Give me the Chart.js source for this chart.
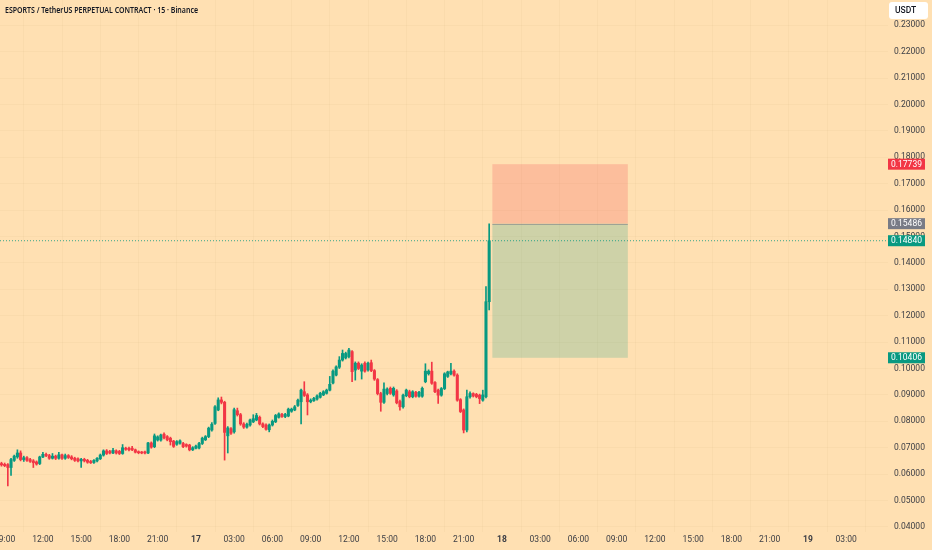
<!DOCTYPE html>
<html>
<head>
<meta charset="utf-8">
<script src="https://cdn.jsdelivr.net/npm/chart.js@4.4.1/dist/chart.umd.min.js"></script>
<style>
  html, body { margin: 0; padding: 0; background: #FFE0B2; }
  canvas { display: block; }
</style>
</head>
<body>
<canvas id="chart" width="932" height="550" style="width:932px;height:550px"></canvas>
<script>
// 15 min candles, hours counted from the 16th 00:00
const firstBarHour = 8.75;
const barHours = 0.25;

const opens = [
  .0640,.0637,.0636,.0625,.0652,.0665,.0680,.0655,.0662,.0655,.0650,.0646,.0640,.0665,.0675,.0670,.0660,.0668,.0660,.0673,
  .0660,.0670,.0665,.0660,.0658,.0650,.0656,.0652,.0648,.0644,.0650,.0658,.0672,.0688,.0686,.0680,.0688,.0686,.0678,.0698,
  .0698,.0698,.0692,.0685,.0683,.0684,.0680,.0718,.0704,.0729,.0729,.0751,.0742,.0736,.0725,.0713,.0717,.0716,.0712,.0710,
  .0692,.0698,.0699,.0716,.0730,.0742,.0767,.0792,.0843,.0881,.0872,.0745,.0772,.0760,.0840,.0825,.0790,.0778,.0786,.0798,
  .0805,.0815,.0790,.0786,.0768,.0786,.0798,.0815,.0826,.0818,.0820,.0838,.0843,.0860,.0874,.0912,.0900,.0874,.0878,.0884,
  .0891,.0900,.0906,.0918,.0945,.0975,.1005,.1032,.1040,.1045,.1064,.0994,.1020,.0990,.1020,.0995,.1022,.0992,.0958,.0905,
  .0872,.0905,.0925,.0900,.0915,.0875,.0855,.0897,.0912,.0893,.0910,.0895,.0895,.0950,.0980,.0990,.0947,.0918,.0899,.0924,
  .0970,.0980,.0990,.0975,.0882,.0843,.0767,.0893,.0905,.0902,.0899,.0880,.0893,.1253
];
const highs = [
  .0645,.0642,.0640,.0660,.0672,.0692,.0688,.0668,.0666,.0660,.0655,.0650,.0668,.0682,.0680,.0675,.0678,.0672,.0682,.0676,
  .0676,.0674,.0670,.0664,.0662,.0660,.0660,.0656,.0652,.0655,.0663,.0676,.0692,.0693,.0690,.0698,.0692,.0690,.0712,.0702,
  .0702,.0705,.0695,.0688,.0686,.0687,.0720,.0722,.0752,.0745,.0752,.0756,.0746,.0740,.0728,.0727,.0730,.0720,.0715,.0713,
  .0704,.0710,.0720,.0740,.0746,.0778,.0795,.0860,.0889,.0892,.0876,.0780,.0776,.0850,.0850,.0830,.0795,.0793,.0808,.0825,
  .0830,.0820,.0794,.0790,.0790,.0805,.0826,.0832,.0830,.0830,.0850,.0850,.0860,.0884,.0922,.0950,.0905,.0885,.0891,.0900,
  .0910,.0916,.0922,.0970,.0995,.1010,.1045,.1070,.1062,.1076,.1068,.1025,.1025,.1018,.1025,.1024,.1032,.0996,.0962,.0910,
  .0946,.0927,.0930,.0930,.0920,.0880,.0903,.0922,.0918,.0916,.0914,.0914,.0930,.1018,.0995,.1024,.0950,.0922,.0928,.0984,
  .0990,.1020,.0995,.0980,.0886,.0847,.0918,.0912,.0908,.0906,.0903,.0918,.1310,.1548
];
const lows = [
  .0630,.0628,.0555,.0595,.0648,.0660,.0650,.0648,.0648,.0644,.0625,.0634,.0636,.0662,.0666,.0656,.0657,.0655,.0657,.0656,
  .0656,.0659,.0654,.0648,.0646,.0625,.0646,.0641,.0640,.0640,.0646,.0655,.0668,.0674,.0676,.0677,.0676,.0674,.0675,.0690,
  .0688,.0689,.0680,.0677,.0677,.0676,.0677,.0698,.0700,.0725,.0725,.0733,.0726,.0710,.0701,.0709,.0713,.0700,.0702,.0688,
  .0689,.0695,.0695,.0712,.0727,.0738,.0763,.0788,.0840,.0866,.0653,.0680,.0750,.0755,.0820,.0785,.0773,.0774,.0782,.0795,
  .0802,.0786,.0776,.0766,.0760,.0782,.0795,.0812,.0815,.0814,.0817,.0834,.0840,.0856,.0790,.0894,.0824,.0870,.0875,.0880,
  .0888,.0897,.0903,.0915,.0942,.0972,.1000,.1028,.1036,.1040,.0950,.0956,.0996,.0960,.0986,.0990,.0988,.0955,.0900,.0838,
  .0868,.0900,.0902,.0895,.0866,.0842,.0850,.0893,.0889,.0889,.0891,.0891,.0891,.0946,.0975,.0940,.0908,.0868,.0895,.0920,
  .0966,.0976,.0971,.0876,.0833,.0756,.0760,.0888,.0892,.0889,.0867,.0876,.0889,.1222
];
const closes = [
  .0635,.0632,.0625,.0655,.0668,.0680,.0655,.0662,.0652,.0648,.0643,.0638,.0665,.0675,.0670,.0660,.0668,.0660,.0673,.0660,
  .0670,.0663,.0658,.0652,.0650,.0656,.0650,.0645,.0643,.0652,.0660,.0672,.0688,.0678,.0680,.0690,.0680,.0678,.0700,.0694,
  .0692,.0692,.0683,.0681,.0680,.0680,.0718,.0702,.0745,.0741,.0748,.0737,.0730,.0723,.0705,.0723,.0726,.0704,.0706,.0692,
  .0700,.0706,.0716,.0736,.0742,.0774,.0789,.0855,.0881,.0872,.0758,.0775,.0755,.0844,.0825,.0790,.0778,.0788,.0805,.0810,
  .0822,.0790,.0780,.0770,.0786,.0800,.0822,.0828,.0818,.0826,.0846,.0846,.0855,.0880,.0918,.0898,.0874,.0880,.0887,.0896,
  .0906,.0912,.0918,.0940,.0990,.1006,.1032,.1057,.1057,.1070,.0988,.1020,.1000,.1013,.0990,.1020,.0992,.0960,.0905,.0872,
  .0922,.0922,.0906,.0925,.0870,.0855,.0899,.0918,.0893,.0912,.0895,.0910,.0925,.0990,.0990,.0944,.0912,.0899,.0924,.0980,
  .0987,.0990,.0975,.0880,.0837,.0767,.0893,.0905,.0896,.0893,.0886,.0900,.1253,.1484
];

// axis ticks
const priceTicks = [0.04,0.05,0.06,0.07,0.08,0.09,0.10,0.11,0.12,0.13,0.14,0.15,0.16,0.17,0.18,0.19,0.20,0.21,0.22,0.23];
const timeTickHours = [9,12,15,18,21,24,27,30,33,36,39,42,45,48,51,54,57,60,63,66,69,72,75];
const timeTickLabels = ['09:00','12:00','15:00','18:00','21:00','17','03:00','06:00','09:00','12:00','15:00','18:00','21:00',
  '18','03:00','06:00','09:00','12:00','15:00','18:00','21:00','19','03:00'];

// position tool (short) and price marks
const lastPrice = 0.14840;
const entryPrice = 0.15486;
const stopPrice = 0.17739;
const targetPrice = 0.10406;
const zoneStartHour = 47.25;
const zoneEndHour = 57.875;

const title = 'ESPORTS / TetherUS PERPETUAL CONTRACT · 15 · Binance';

const upColor = '#089981';
const downColor = '#F23645';
const textColor = '#3b3d44';
const gridColor = 'rgba(120,90,40,0.035)';
const fontFamily = 'Roboto, "Noto Sans", sans-serif';

const xMin = 8.635, xMax = 78.28;
const yMin = 0.03807, yMax = 0.23958;

const times = opens.map((o, i) => firstBarHour + i * barHours);
const barColors = opens.map((o, i) => closes[i] >= o ? upColor : downColor);

const overlay = {
  id: 'overlay',
  beforeDatasetsDraw(chart) {
    const {ctx, scales: {x, y}} = chart;
    const x0 = x.getPixelForValue(zoneStartHour);
    const x1 = x.getPixelForValue(zoneEndHour);
    const yStop = y.getPixelForValue(stopPrice);
    const yEntry = y.getPixelForValue(entryPrice);
    const yTarget = y.getPixelForValue(targetPrice);
    ctx.save();
    ctx.fillStyle = 'rgba(242,54,69,0.2)';
    ctx.fillRect(x0, yStop, x1 - x0, yEntry - yStop);
    ctx.fillStyle = 'rgba(8,153,129,0.2)';
    ctx.fillRect(x0, yEntry, x1 - x0, yTarget - yEntry);
    ctx.strokeStyle = 'rgba(120,123,134,0.55)';
    ctx.lineWidth = 1;
    ctx.beginPath();
    ctx.moveTo(x0, Math.round(yEntry) + 0.5);
    ctx.lineTo(x1, Math.round(yEntry) + 0.5);
    ctx.stroke();
    ctx.restore();
  },
  afterDraw(chart) {
    const {ctx, scales: {y}} = chart;
    const left = chart.chartArea.right;
    ctx.save();
    // price labels on the axis
    const marks = [[stopPrice, downColor], [entryPrice, '#787B86'], [lastPrice, upColor], [targetPrice, upColor]];
    ctx.font = '8.5px ' + fontFamily;
    ctx.textAlign = 'center';
    ctx.textBaseline = 'middle';
    marks.forEach(([v, c]) => {
      const py = y.getPixelForValue(v);
      ctx.fillStyle = c;
      ctx.fillRect(left, py - 5.5, 37, 11);
      ctx.fillStyle = '#ffffff';
      ctx.fillText(v.toFixed(5), left + 18.5, py + 0.5);
    });
    // currency box
    ctx.fillStyle = '#ffffff';
    ctx.beginPath();
    ctx.roundRect(889, 2, 39, 17, 3);
    ctx.fill();
    ctx.fillStyle = '#131722';
    ctx.textAlign = 'left';
    ctx.font = '500 8.5px ' + fontFamily;
    ctx.fillText('USDT', 895, 11);
    // symbol title
    ctx.font = '600 9.5px "Noto Sans", sans-serif';
    const w = ctx.measureText(title).width;
    ctx.translate(5, 10.5);
    ctx.scale(193 / w, 1);
    ctx.fillStyle = '#131722';
    ctx.fillText(title, 0, 0);
    ctx.restore();
  }
};

new Chart(document.getElementById('chart'), {
  type: 'bar',
  data: {
    datasets: [
      {
        type: 'line',
        data: [{x: xMin, y: lastPrice}, {x: xMax, y: lastPrice}],
        borderColor: 'rgba(8,153,129,0.8)',
        borderWidth: 1,
        borderDash: [1, 2],
        pointRadius: 0,
        order: 0
      },
      {
        data: times.map((t, i) => ({x: t, y: [opens[i], closes[i]]})),
        backgroundColor: barColors,
        barThickness: 2.4,
        minBarLength: 1,
        grouped: false,
        order: 1
      },
      {
        data: times.map((t, i) => ({x: t, y: [lows[i], highs[i]]})),
        backgroundColor: barColors,
        barThickness: 1,
        grouped: false,
        order: 2
      }
    ]
  },
  options: {
    responsive: false,
    animation: false,
    layout: { padding: 0 },
    plugins: { legend: { display: false }, tooltip: { enabled: false } },
    scales: {
      x: {
        type: 'linear',
        min: xMin,
        max: xMax,
        offset: false,
        grid: { color: gridColor, drawTicks: false },
        border: { display: false },
        afterBuildTicks: s => { s.ticks = timeTickHours.map(v => ({value: v})); },
        afterFit: s => { s.height = 18; s.paddingLeft = 0; s.paddingRight = 0; },
        ticks: {
          autoSkip: false,
          maxRotation: 0,
          padding: 3,
          color: textColor,
          font: c => ({ family: fontFamily, size: 8.5,
            weight: (c.tick && timeTickLabels[c.index] && timeTickLabels[c.index].length <= 2) ? 'bold' : 'normal' }),
          callback: (v, i) => timeTickLabels[i]
        }
      },
      y: {
        position: 'right',
        min: yMin,
        max: yMax,
        grid: { color: gridColor, drawTicks: false },
        border: { display: false },
        afterBuildTicks: s => { s.ticks = priceTicks.map(v => ({value: v})); },
        afterFit: s => { s.width = 44; s.paddingTop = 0; s.paddingBottom = 0; },
        ticks: {
          padding: 6,
          color: textColor,
          font: { family: fontFamily, size: 8.5 },
          callback: v => Number(v).toFixed(5)
        }
      }
    }
  },
  plugins: [overlay]
});
</script>
</body>
</html>
